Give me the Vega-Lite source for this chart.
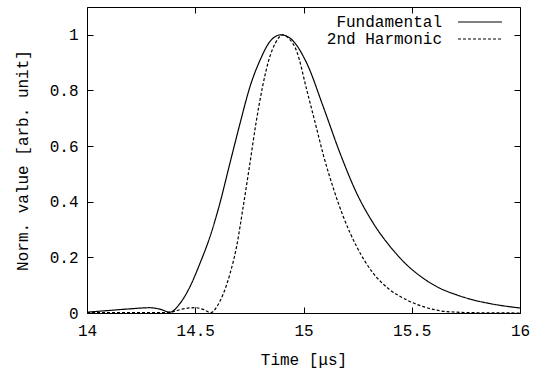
{
  "$schema": "https://vega.github.io/schema/vega-lite/v6.json",
  "width": 433,
  "height": 306,
  "autosize": "none",
  "padding": {"left": 87, "top": 7, "right": 23, "bottom": 57},
  "config": {
    "view": {"stroke": "#000", "strokeWidth": 1},
    "font": "Liberation Mono",
    "axis": {
      "grid": false,
      "domain": false,
      "tickColor": "#000",
      "tickSize": -6,
      "tickWidth": 1,
      "labelFont": "Liberation Mono",
      "labelFontSize": 16,
      "labelColor": "#000",
      "titleFont": "Liberation Mono",
      "titleFontSize": 16,
      "titleFontWeight": "normal",
      "titleColor": "#000"
    }
  },
  "data": {
    "values": [
      {"t": 14.0, "v": 0.003, "s": "Fundamental"},
      {"t": 14.1, "v": 0.009, "s": "Fundamental"},
      {"t": 14.2, "v": 0.015, "s": "Fundamental"},
      {"t": 14.29, "v": 0.019, "s": "Fundamental"},
      {"t": 14.34, "v": 0.013, "s": "Fundamental"},
      {"t": 14.383, "v": 0.003, "s": "Fundamental"},
      {"t": 14.43, "v": 0.035, "s": "Fundamental"},
      {"t": 14.476, "v": 0.095, "s": "Fundamental"},
      {"t": 14.522, "v": 0.179, "s": "Fundamental"},
      {"t": 14.568, "v": 0.274, "s": "Fundamental"},
      {"t": 14.614, "v": 0.395, "s": "Fundamental"},
      {"t": 14.66, "v": 0.538, "s": "Fundamental"},
      {"t": 14.707, "v": 0.682, "s": "Fundamental"},
      {"t": 14.753, "v": 0.814, "s": "Fundamental"},
      {"t": 14.8, "v": 0.91, "s": "Fundamental"},
      {"t": 14.845, "v": 0.976, "s": "Fundamental"},
      {"t": 14.895, "v": 1.0, "s": "Fundamental"},
      {"t": 14.938, "v": 0.988, "s": "Fundamental"},
      {"t": 15.015, "v": 0.898, "s": "Fundamental"},
      {"t": 15.091, "v": 0.742, "s": "Fundamental"},
      {"t": 15.169, "v": 0.574, "s": "Fundamental"},
      {"t": 15.246, "v": 0.43, "s": "Fundamental"},
      {"t": 15.322, "v": 0.323, "s": "Fundamental"},
      {"t": 15.4, "v": 0.239, "s": "Fundamental"},
      {"t": 15.477, "v": 0.173, "s": "Fundamental"},
      {"t": 15.553, "v": 0.125, "s": "Fundamental"},
      {"t": 15.63, "v": 0.089, "s": "Fundamental"},
      {"t": 15.708, "v": 0.065, "s": "Fundamental"},
      {"t": 15.784, "v": 0.047, "s": "Fundamental"},
      {"t": 15.861, "v": 0.034, "s": "Fundamental"},
      {"t": 15.93, "v": 0.025, "s": "Fundamental"},
      {"t": 16.0, "v": 0.018, "s": "Fundamental"},
      {"t": 14.0, "v": 0.001, "s": "2nd Harmonic"},
      {"t": 14.2, "v": 0.001, "s": "2nd Harmonic"},
      {"t": 14.38, "v": 0.002, "s": "2nd Harmonic"},
      {"t": 14.42, "v": 0.01, "s": "2nd Harmonic"},
      {"t": 14.46, "v": 0.017, "s": "2nd Harmonic"},
      {"t": 14.5, "v": 0.019, "s": "2nd Harmonic"},
      {"t": 14.54, "v": 0.012, "s": "2nd Harmonic"},
      {"t": 14.572, "v": 0.001, "s": "2nd Harmonic"},
      {"t": 14.6, "v": 0.023, "s": "2nd Harmonic"},
      {"t": 14.63, "v": 0.07, "s": "2nd Harmonic"},
      {"t": 14.66, "v": 0.14, "s": "2nd Harmonic"},
      {"t": 14.69, "v": 0.235, "s": "2nd Harmonic"},
      {"t": 14.72, "v": 0.375, "s": "2nd Harmonic"},
      {"t": 14.75, "v": 0.525, "s": "2nd Harmonic"},
      {"t": 14.78, "v": 0.68, "s": "2nd Harmonic"},
      {"t": 14.81, "v": 0.81, "s": "2nd Harmonic"},
      {"t": 14.84, "v": 0.91, "s": "2nd Harmonic"},
      {"t": 14.87, "v": 0.97, "s": "2nd Harmonic"},
      {"t": 14.905, "v": 1.0, "s": "2nd Harmonic"},
      {"t": 14.935, "v": 0.985, "s": "2nd Harmonic"},
      {"t": 14.969, "v": 0.94, "s": "2nd Harmonic"},
      {"t": 15.015, "v": 0.802, "s": "2nd Harmonic"},
      {"t": 15.061, "v": 0.662, "s": "2nd Harmonic"},
      {"t": 15.091, "v": 0.57, "s": "2nd Harmonic"},
      {"t": 15.138, "v": 0.448, "s": "2nd Harmonic"},
      {"t": 15.184, "v": 0.346, "s": "2nd Harmonic"},
      {"t": 15.246, "v": 0.238, "s": "2nd Harmonic"},
      {"t": 15.322, "v": 0.143, "s": "2nd Harmonic"},
      {"t": 15.4, "v": 0.083, "s": "2nd Harmonic"},
      {"t": 15.477, "v": 0.047, "s": "2nd Harmonic"},
      {"t": 15.553, "v": 0.023, "s": "2nd Harmonic"},
      {"t": 15.63, "v": 0.008, "s": "2nd Harmonic"},
      {"t": 15.708, "v": 0.003, "s": "2nd Harmonic"},
      {"t": 15.8, "v": 0.001, "s": "2nd Harmonic"},
      {"t": 16.0, "v": 0.0, "s": "2nd Harmonic"}
    ]
  },
  "layer": [
    {
      "mark": {"type": "line", "interpolate": "monotone", "strokeWidth": 1.2, "color": "#000", "clip": true},
      "encoding": {
        "x": {
          "field": "t", "type": "quantitative",
          "scale": {"domain": [14, 16], "nice": false, "zero": false},
          "axis": {"orient": "bottom", "values": [14, 14.5, 15, 15.5, 16], "format": "~g", "labelPadding": 15, "title": "Time [μs]", "titlePadding": 13, "labelFlush": false}
        },
        "y": {
          "field": "v", "type": "quantitative",
          "scale": {"domain": [0, 1.1], "nice": false},
          "axis": {"orient": "left", "values": [0, 0.2, 0.4, 0.6, 0.8, 1], "format": "~g", "labelPadding": 15, "title": "Norm. value [arb. unit]", "titlePadding": 19, "labelFlush": false}
        },
        "strokeDash": {
          "field": "s", "type": "nominal",
          "scale": {"domain": ["Fundamental", "2nd Harmonic"], "range": [[1, 0], [3, 2]]},
          "legend": {
            "title": null,
            "orient": "none",
            "legendX": 385,
            "legendY": 7,
            "padding": 0,
            "rowPadding": 1,
            "symbolType": "M-4,0H4",
            "symbolSize": 121,
            "symbolStrokeColor": "#000",
            "symbolStrokeWidth": 1,
            "labelAlign": "right",
            "labelOffset": -46,
            "labelFont": "Liberation Mono",
            "labelFontSize": 16,
            "labelColor": "#000"
          }
        }
      }
    },
    {
      "mark": {"type": "point", "opacity": 0},
      "encoding": {
        "x": {
          "field": "t", "type": "quantitative",
          "axis": {"orient": "top", "values": [14, 14.5, 15, 15.5, 16], "labels": false, "title": null}
        },
        "y": {
          "field": "v", "type": "quantitative",
          "axis": {"orient": "right", "values": [0, 0.2, 0.4, 0.6, 0.8, 1], "labels": false, "title": null}
        }
      }
    }
  ],
  "resolve": {"axis": {"x": "independent", "y": "independent"}}
}
